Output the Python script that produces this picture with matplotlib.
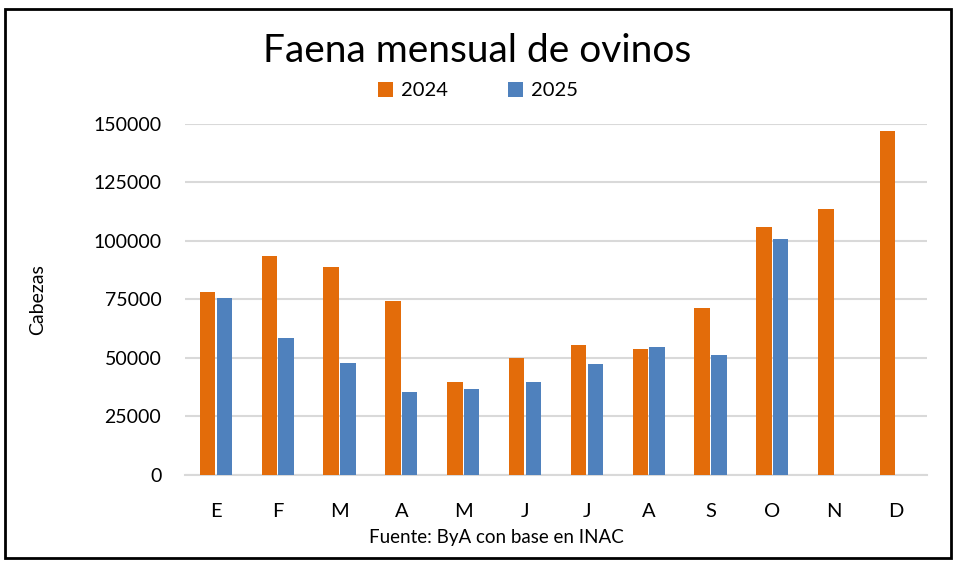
import matplotlib.pyplot as plt
from matplotlib.patches import Rectangle
import numpy as np

# ---------------- data ----------------
months = ["E", "F", "M", "A", "M", "J", "J", "A", "S", "O", "N", "D"]
faena_2024 = [78000, 93400, 88800, 74200, 39900, 49900, 55700, 53700, 71500, 106100, 113500, 147100]
faena_2025 = [75500, 58400, 47700, 35300, 36600, 39900, 47300, 54600, 51200, 100700, None, None]
yticks = [0, 25000, 50000, 75000, 100000, 125000, 150000]

ORANGE = "#E36C0A"
BLUE = "#4F81BD"
GRID = "#D9D9D9"

plt.rcParams["font.family"] = ["Lato", "DejaVu Sans"]

fig = plt.figure(figsize=(9.62, 5.77), dpi=100)
ax = fig.add_axes([0.1923, 0.1768, 0.7713, 0.6083])

x = np.arange(len(months))
w = 0.25
off = 0.135
v25 = [np.nan if v is None else v for v in faena_2025]
ax.bar(x - off, faena_2024, width=w, color=ORANGE, label="2024", zorder=3)
ax.bar(x + off, v25, width=w, color=BLUE, label="2025", zorder=3)

ax.set_xlim(-0.5, len(months) - 0.5)
ax.set_ylim(0, 150000)
ax.set_yticks(yticks)
ax.set_yticklabels([str(t) for t in yticks], fontsize=14)
ax.set_xticks(x)
ax.set_xticklabels(months, fontsize=14.5)
ax.tick_params(axis="both", length=0)
ax.tick_params(axis="y", pad=17)
ax.tick_params(axis="x", pad=20)
ax.grid(axis="y", color=GRID, linewidth=1.5, zorder=0)
for s in ["top", "right", "left"]:
    ax.spines[s].set_visible(False)
ax.spines["bottom"].set_color(GRID)
ax.spines["bottom"].set_linewidth(1.5)

fig.text(0.039, 0.48, "Cabezas", rotation=90, fontsize=14, ha="center", va="center")
fig.text(0.496, 0.912, "Faena mensual de ovinos", fontsize=28, ha="center", va="center")
fig.text(0.516, 0.069, "Fuente: ByA con base en INAC", fontsize=13.5, ha="center", va="center")

fig.legend(loc="center", bbox_to_anchor=(0.497, 0.843), ncol=2, frameon=False,
           fontsize=14.5, handlelength=0.75, handleheight=0.75, handletextpad=0.4,
           columnspacing=3.0)

# outer border
fig.patches.append(Rectangle((0.005, 0.033), 0.984, 0.952, transform=fig.transFigure,
                             fill=False, edgecolor="black", linewidth=2))

fig.savefig("out.png", dpi=100)
